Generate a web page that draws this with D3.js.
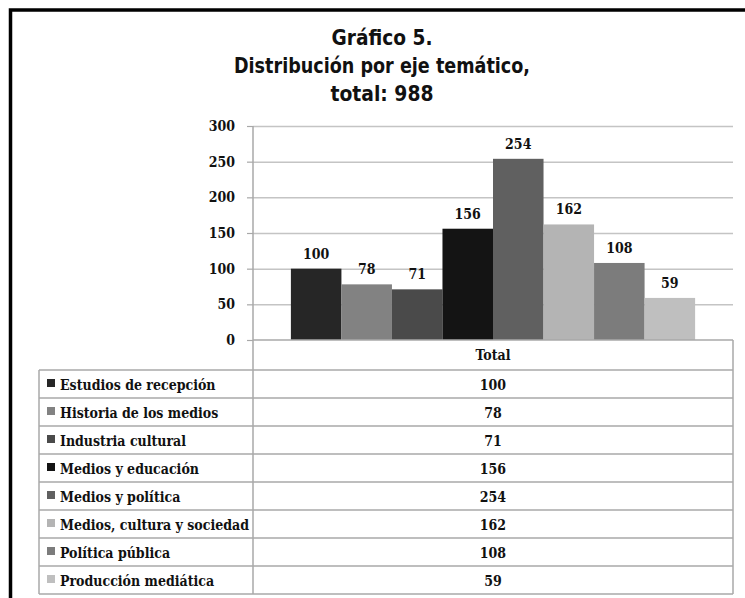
<!DOCTYPE html>
<html>
<head>
<meta charset="utf-8">
<script src="https://cdn.jsdelivr.net/npm/d3@7"></script>
<style>
  body { margin: 0; background: #fff; }
  svg { display: block; }
</style>
</head>
<body>
<div id="chart"></div>
<script>
var categories = ["Estudios de recepción", "Historia de los medios", "Industria cultural",
    "Medios y educación", "Medios y política", "Medios, cultura y sociedad",
    "Política pública", "Producción mediática"];
var values = [100, 78, 71, 156, 254, 162, 108, 59];
var colors = ["#262626", "#828282", "#4a4a4a", "#141414", "#606060", "#b4b4b4", "#7c7c7c", "#bfbfbf"];
var yTicks = [0, 50, 100, 150, 200, 250, 300];
var titleLines = ["Gráfico 5.", "Distribución por eje temático,", "total: 988"];
var seriesName = "Total";

var width = 745, height = 598;
var plot = { left: 253, right: 733, top: 126, bottom: 340 };
var tableLeft = 39, headerH = 30, rowH = 28;
var titleWidths = [101, 296, 103];
var serif = "'DejaVu Serif Condensed', 'DejaVu Serif', serif";
var titleFont = "'DejaVu Sans Condensed', 'DejaVu Sans', sans-serif";

var svg = d3.select("#chart")
    .append("svg")
    .attr("width", width)
    .attr("height", height);

// outer frame (runs off the right and bottom of the picture)
svg.append("rect")
    .attr("x", 10.5)
    .attr("y", 10)
    .attr("width", 780)
    .attr("height", 620)
    .attr("fill", "none")
    .attr("stroke", "#000")
    .attr("stroke-width", 3.5);

svg.append("g")
    .selectAll("text")
    .data(titleLines)
    .enter().append("text")
    .attr("x", 382)
    .attr("y", function (d, i) { return 45 + i * 28; })
    .attr("text-anchor", "middle")
    .attr("textLength", function (d, i) { return titleWidths[i]; })
    .attr("lengthAdjust", "spacingAndGlyphs")
    .style("font-family", titleFont)
    .style("font-stretch", "condensed")
    .style("font-weight", "bold")
    .style("font-size", "21px")
    .attr("fill", "#111")
    .text(function (d) { return d; });

var x = d3.scaleBand()
    .domain(categories)
    .range([plot.left, plot.right])
    .paddingInner(0)
    .paddingOuter(0.75);

var y = d3.scaleLinear()
    .domain([0, 300])
    .range([plot.bottom, plot.top]);

// gridlines
svg.append("g")
    .attr("transform", "translate(" + plot.left + ",0)")
    .call(d3.axisLeft(y).tickValues(yTicks.slice(1)).tickSize(-(plot.right - plot.left)).tickFormat(""))
    .call(function (g) { g.select(".domain").remove(); })
    .selectAll("line")
    .attr("stroke", "#c4c4c4")
    .attr("stroke-width", 1.5);

// y axis
var yAxis = svg.append("g")
    .attr("transform", "translate(" + plot.left + ",0)")
    .call(d3.axisLeft(y).tickValues(yTicks).tickSize(6).tickPadding(12));
yAxis.select(".domain").remove();
yAxis.selectAll("line").attr("stroke", "#a8a8a8").attr("stroke-width", 1.2);
yAxis.selectAll("text")
    .style("font-family", serif)
    .style("font-stretch", "condensed")
    .style("font-weight", "bold")
    .style("font-size", "14px")
    .attr("fill", "#111");

// bars
svg.append("g")
    .selectAll("rect")
    .data(values)
    .enter().append("rect")
    .attr("x", function (d, i) { return x(categories[i]); })
    .attr("y", function (d) { return y(d); })
    .attr("width", x.bandwidth())
    .attr("height", function (d) { return y(0) - y(d); })
    .attr("fill", function (d, i) { return colors[i]; });

// value labels
svg.append("g")
    .selectAll("text")
    .data(values)
    .enter().append("text")
    .attr("x", function (d, i) { return x(categories[i]) + x.bandwidth() / 2; })
    .attr("y", function (d) { return y(d) - 10; })
    .attr("text-anchor", "middle")
    .style("font-family", serif)
    .style("font-stretch", "condensed")
    .style("font-weight", "bold")
    .style("font-size", "14px")
    .attr("fill", "#111")
    .text(function (d) { return d; });

// data table
var table = svg.append("g");
var tableBottom = plot.bottom + headerH + rowH * categories.length;
var lineColor = "#a8a8a8";

// axis line continued as column divider
table.append("line")
    .attr("x1", plot.left).attr("x2", plot.left)
    .attr("y1", plot.top).attr("y2", tableBottom)
    .attr("stroke", lineColor).attr("stroke-width", 1.5);

// header row
table.append("line")
    .attr("x1", plot.left).attr("x2", plot.right)
    .attr("y1", plot.bottom).attr("y2", plot.bottom)
    .attr("stroke", lineColor).attr("stroke-width", 1.5);
table.append("text")
    .attr("x", (plot.left + plot.right) / 2)
    .attr("y", plot.bottom + 20)
    .attr("text-anchor", "middle")
    .style("font-family", serif)
    .style("font-stretch", "condensed")
    .style("font-weight", "bold")
    .style("font-size", "14px")
    .attr("fill", "#111")
    .text(seriesName);

var rowTop = function (i) { return plot.bottom + headerH + i * rowH; };

table.selectAll(".hline")
    .data(d3.range(categories.length + 1))
    .enter().append("line")
    .attr("x1", tableLeft).attr("x2", plot.right)
    .attr("y1", function (i) { return rowTop(i); })
    .attr("y2", function (i) { return rowTop(i); })
    .attr("stroke", lineColor).attr("stroke-width", 1.5);

table.append("line")
    .attr("x1", tableLeft).attr("x2", tableLeft)
    .attr("y1", rowTop(0)).attr("y2", tableBottom)
    .attr("stroke", lineColor).attr("stroke-width", 1.5);
table.append("line")
    .attr("x1", plot.right).attr("x2", plot.right)
    .attr("y1", plot.bottom).attr("y2", tableBottom)
    .attr("stroke", lineColor).attr("stroke-width", 1.5);

var rows = table.selectAll(".row")
    .data(categories)
    .enter().append("g")
    .attr("transform", function (d, i) { return "translate(0," + rowTop(i) + ")"; });

rows.append("rect")
    .attr("x", 47)
    .attr("y", rowH / 2 - 5)
    .attr("width", 8)
    .attr("height", 8)
    .attr("fill", function (d, i) { return colors[i]; });

rows.append("text")
    .attr("x", 60)
    .attr("y", rowH / 2 + 6)
    .style("font-family", serif)
    .style("font-stretch", "condensed")
    .style("font-weight", "bold")
    .style("font-size", "14px")
    .attr("fill", "#111")
    .text(function (d) { return d; });

rows.append("text")
    .attr("x", (plot.left + plot.right) / 2)
    .attr("y", rowH / 2 + 6)
    .attr("text-anchor", "middle")
    .style("font-family", serif)
    .style("font-stretch", "condensed")
    .style("font-weight", "bold")
    .style("font-size", "14px")
    .attr("fill", "#111")
    .text(function (d, i) { return values[i]; });
</script>
</body>
</html>
